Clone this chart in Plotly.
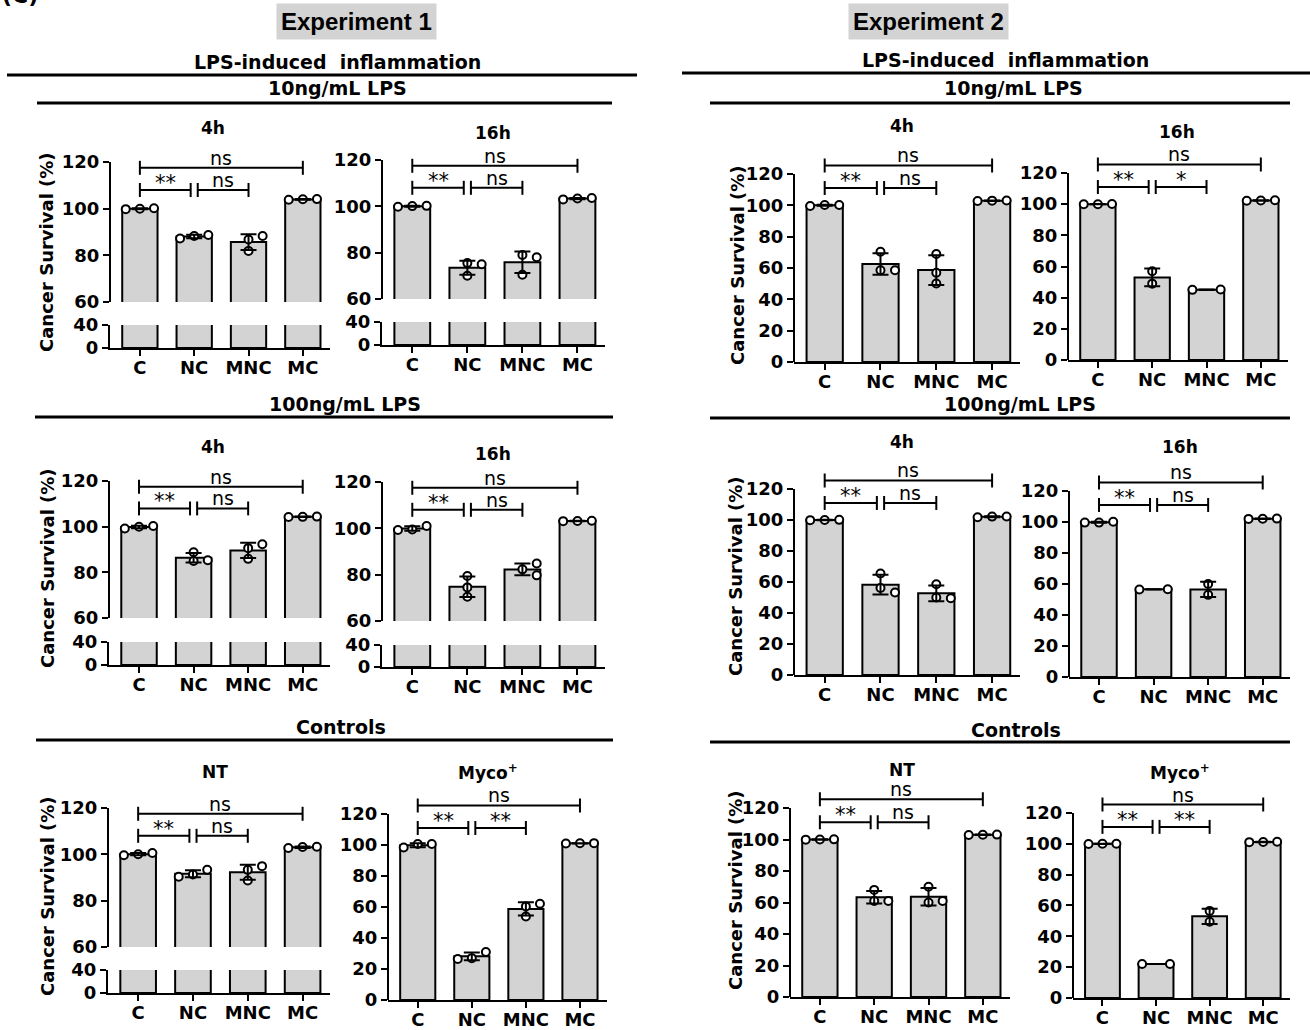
import numpy as np
import plotly.graph_objects as go

W, H = 1310, 1030
categories = ["C", "NC", "MNC", "MC"]

# Replicate measurements (% cancer survival), one list per group (C, NC, MNC, MC)
e1_lps10_4h = [[100.0, 100.2, 99.8], [88.7, 88.3, 87.2], [81.9, 86.8, 88.3], [104.0, 104.1, 103.8]]
e1_lps10_16h = [[100.1, 100.2, 99.8], [75.5, 70.0, 75.0], [79.0, 78.0, 70.5], [103.4, 103.6, 103.0]]
e1_lps100_4h = [[100.3, 100.0, 99.2], [88.8, 85.3, 85.0], [85.9, 90.6, 92.3], [104.3, 104.4, 104.2]]
e1_lps100_16h = [[101.0, 99.5, 99.3], [79.4, 74.5, 70.5], [82.3, 84.8, 79.7], [103.2, 103.3, 103.1]]
e1_nt = [[100.6, 100.0, 99.6], [93.3, 91.3, 90.3], [88.7, 93.3, 94.9], [103.3, 103.2, 102.7]]
e1_myco = [[100.6, 100.6, 98.4], [31.0, 27.0, 26.5], [53.9, 60.3, 62.1], [101.2, 101.1, 101.0]]

e2_lps10_4h = [[100.2, 100.2, 99.6], [70.4, 58.6, 58.6], [68.9, 57.0, 50.1], [103.1, 103.0, 102.8]]
e2_lps10_16h = [[100.0, 100.1, 99.9], [57.0, 49.0], [45.0, 45.2], [102.3, 102.5, 102.2]]
e2_lps100_4h = [[100.0, 100.1, 99.9], [65.5, 56.2, 53.2], [58.5, 50.0, 49.5], [102.2, 102.3, 101.8]]
e2_lps100_16h = [[100.2, 99.6, 99.6], [56.5, 56.6], [60.0, 53.0], [102.1, 102.2, 102.0]]
e2_nt = [[100.0, 100.1, 99.9], [68.0, 61.0, 61.0], [70.0, 60.0, 61.0], [103.0, 103.1, 102.9]]
e2_myco = [[100.0, 100.1, 99.9], [22.0, 22.1], [56.5, 49.5], [101.2, 101.3, 101.1]]

# Significance labels: C vs NC, NC vs MNC, C vs MC
sig_e1_lps10_4h = ["**", "ns", "ns"]
sig_e1_lps10_16h = ["**", "ns", "ns"]
sig_e1_lps100_4h = ["**", "ns", "ns"]
sig_e1_lps100_16h = ["**", "ns", "ns"]
sig_e1_nt = ["**", "ns", "ns"]
sig_e1_myco = ["**", "**", "ns"]
sig_e2_lps10_4h = ["**", "ns", "ns"]
sig_e2_lps10_16h = ["**", "*", "ns"]
sig_e2_lps100_4h = ["**", "ns", "ns"]
sig_e2_lps100_16h = ["**", "ns", "ns"]
sig_e2_nt = ["**", "ns", "ns"]
sig_e2_myco = ["**", "**", "ns"]

YLABEL = "Cancer Survival (%)"
FONT = "DejaVu Sans"
BAR_FILL = "#d3d3d3"

# Panel geometry (pixels): x = axis left/right; y = tick pixels
# broken: (y0, y40, y60, y120); full: (y0, y120)
panels = [
    dict(data=e1_lps10_4h, sig=sig_e1_lps10_4h, kind="broken", x=(110, 330), y=(348, 325, 302, 162),
         title=("4h", 213, 128), ylab=(47, 252)),
    dict(data=e1_lps10_16h, sig=sig_e1_lps10_16h, kind="broken", x=(382, 605), y=(345, 322, 299, 160),
         title=("16h", 493, 133), ylab=None),
    dict(data=e1_lps100_4h, sig=sig_e1_lps100_4h, kind="broken", x=(109, 330), y=(665, 642, 618, 481),
         title=("4h", 213, 447), ylab=(47, 568)),
    dict(data=e1_lps100_16h, sig=sig_e1_lps100_16h, kind="broken", x=(382, 605), y=(667, 645, 621, 482),
         title=("16h", 493, 454), ylab=None),
    dict(data=e1_nt, sig=sig_e1_nt, kind="broken", x=(108, 330), y=(993, 970, 947, 808),
         title=("NT", 215, 772), ylab=(47, 896)),
    dict(data=e1_myco, sig=sig_e1_myco, kind="full", x=(388, 607), y=(1000, 814),
         title=("Myco<sup>+</sup>", 488, 772), ylab=None),
    dict(data=e2_lps10_4h, sig=sig_e2_lps10_4h, kind="full", x=(794, 1020), y=(362, 174),
         title=("4h", 902, 126), ylab=(737, 265)),
    dict(data=e2_lps10_16h, sig=sig_e2_lps10_16h, kind="full", x=(1068, 1288), y=(360, 173),
         title=("16h", 1177, 132), ylab=None),
    dict(data=e2_lps100_4h, sig=sig_e2_lps100_4h, kind="full", x=(794, 1020), y=(675, 489),
         title=("4h", 902, 442), ylab=(735, 576)),
    dict(data=e2_lps100_16h, sig=sig_e2_lps100_16h, kind="full", x=(1069, 1290), y=(677, 491),
         title=("16h", 1180, 447), ylab=None),
    dict(data=e2_nt, sig=sig_e2_nt, kind="full", x=(790, 1010), y=(997, 808),
         title=("NT", 902, 770), ylab=(735, 890)),
    dict(data=e2_myco, sig=sig_e2_myco, kind="full", x=(1073, 1290), y=(998, 813),
         title=("Myco<sup>+</sup>", 1180, 772), ylab=None),
]

# Section headers (text, x px, y px) and rules (x0 px, x1 px, y px)
headers = [
    ("LPS-induced  inflammation", 338, 62), ("10ng/mL LPS", 338, 88),
    ("100ng/mL LPS", 345, 404), ("Controls", 341, 727),
    ("LPS-induced  inflammation", 1005, 60), ("10ng/mL LPS", 1013, 88),
    ("100ng/mL LPS", 1020, 404), ("Controls", 1016, 730),
]
rules = [
    (7, 637, 75), (37, 612, 103), (35, 613, 417), (36, 613, 740),
    (682, 1310, 73), (710, 1290, 103), (710, 1290, 418), (710, 1290, 742),
]


def px_x(px):
    return px / W


def px_y(py):
    return 1 - py / H


fig = go.Figure()
layout_axes = {}
shapes = []
annotations = []
counter = [0]

XR = [-0.55, 3.5]
X_CAT = [0, 1, 2, 3]


def new_axes(xdom, ydom, yrange, yticks, show_x, y_line):
    counter[0] += 1
    n = counter[0]
    s = "" if n == 1 else str(n)
    xid, yid = "x" + s, "y" + s
    tickfont = dict(family=FONT, size=18, color="black", weight="bold")
    layout_axes["xaxis" + s] = dict(
        domain=xdom, range=XR, anchor=yid, visible=show_x, showgrid=False, zeroline=False,
        showline=True, linecolor="black", linewidth=2, ticks="outside", ticklen=6, tickwidth=2,
        tickcolor="black", tickmode="array", tickvals=X_CAT, ticktext=categories,
        tickfont=tickfont, fixedrange=True, automargin=False, ticklabelstandoff=-4,
    )
    layout_axes["yaxis" + s] = dict(
        domain=ydom, range=yrange, anchor=xid, showgrid=False, zeroline=False,
        showline=y_line, linecolor="black", linewidth=2, ticks="outside", ticklen=6, tickwidth=2,
        tickcolor="black", tickmode="array", tickvals=yticks, ticktext=[str(t) for t in yticks],
        tickfont=tickfont, fixedrange=True, automargin=False,
    )
    return xid, yid


def swarm(values, ppu, step=0.26, min_px=8.5):
    ys = np.asarray(values, dtype=float)
    n = len(ys)
    if n > 1 and (ys.max() - ys.min()) * ppu < min_px:
        ranks = np.argsort(np.argsort(ys))
        sym = np.array([-1.0, 1.0]) if n == 2 else np.arange(n) - (n - 1) / 2
        return [sym[r] * step for r in ranks]
    placed, offs = [], []
    for v in ys:
        col = 0
        for c in [0, 1, -1, 2, -2]:
            if all(not (pc == c and abs(v - pv) * ppu < min_px) for pc, pv in placed):
                col = c
                break
        placed.append((col, v))
        offs.append(col * step)
    return offs


def add_bars(vals, xid, yid):
    means = [float(np.mean(v)) for v in vals]
    fig.add_trace(go.Bar(
        x=X_CAT, y=means, width=0.65, xaxis=xid, yaxis=yid, showlegend=False,
        marker=dict(color=BAR_FILL, line=dict(color="black", width=2)), hoverinfo="skip",
    ))


def add_points_and_errors(vals, xid, yid, ppu):
    means = [float(np.mean(v)) for v in vals]
    sds = [float(np.std(v, ddof=1)) for v in vals]
    px, py = [], []
    for i, v in enumerate(vals):
        for o, y in zip(swarm(v, ppu), v):
            px.append(i + o)
            py.append(y)
    fig.add_trace(go.Scatter(
        x=px, y=py, mode="markers", xaxis=xid, yaxis=yid, showlegend=False, cliponaxis=False,
        marker=dict(symbol="circle", size=8, color="white", line=dict(color="black", width=2)),
    ))
    fig.add_trace(go.Scatter(
        x=X_CAT, y=means, mode="markers", xaxis=xid, yaxis=yid, showlegend=False,
        marker=dict(size=1, color="rgba(0,0,0,0)"),
        error_y=dict(type="data", array=sds, visible=True, color="black", thickness=2, width=8),
    ))


def add_brackets(sig, xid, yid, low, high):
    g = 0.065
    spans = [(0, 1 - g, low), (1 + g, 2, low), (0, 3, high)]
    for (a, b, lvl), lab in zip(spans, sig):
        shapes.append(dict(type="line", xref=xid, yref=yid, x0=a, x1=b, y0=lvl, y1=lvl,
                           line=dict(color="black", width=2)))
        for xe in (a, b):
            shapes.append(dict(type="line", xref=xid, yref=yid, ysizemode="pixel", yanchor=lvl,
                               x0=xe, x1=xe, y0=-7, y1=7, line=dict(color="black", width=2)))
        star = "*" in lab
        annotations.append(dict(
            text=lab, x=(a + b) / 2, y=lvl, xref=xid, yref=yid, showarrow=False,
            yanchor="bottom", yshift=-7 if star else -3,
            font=dict(family=FONT, size=21 if star else 19, color="black"),
        ))


def y_line(xid, yid, lo, hi):
    shapes.append(dict(type="line", xref=xid + " domain", yref=yid, x0=0, x1=0, y0=lo, y1=hi,
                       line=dict(color="black", width=2)))


for p in panels:
    x0, x1 = p["x"]
    xdom = [px_x(x0), px_x(x1)]
    vals = p["data"]
    if p["kind"] == "full":
        y0, y120 = p["y"]
        ppu = (y0 - y120) / 120
        ytop = 133
        top_px = y0 - ppu * ytop
        xid, yid = new_axes(xdom, [px_y(y0), px_y(top_px)], [0, ytop],
                            [0, 20, 40, 60, 80, 100, 120], True, False)
        y_line(xid, yid, 0, 120)
        add_bars(vals, xid, yid)
        add_points_and_errors(vals, xid, yid, ppu)
        add_brackets(p["sig"], xid, yid, 111, 125.5)
    else:
        y0, y40, y60, y120 = p["y"]
        xb, yb = new_axes(xdom, [px_y(y0), px_y(y40)], [0, 40], [0, 40], True, True)
        add_bars(vals, xb, yb)
        ppu = (y60 - y120) / 60
        ytop = 126
        top_px = y60 - ppu * (ytop - 60)
        xt, yt = new_axes(xdom, [px_y(y60), px_y(top_px)], [60, ytop],
                          [60, 80, 100, 120], False, False)
        y_line(xt, yt, 60, 120)
        add_bars(vals, xt, yt)
        add_points_and_errors(vals, xt, yt, ppu)
        add_brackets(p["sig"], xt, yt, 108, 117.5)

    t, tx, ty = p["title"]
    annotations.append(dict(text=t, x=px_x(tx), y=px_y(ty), xref="paper", yref="paper",
                            showarrow=False, xanchor="center", yanchor="middle",
                            font=dict(family=FONT, size=17, color="black", weight="bold")))
    if p["ylab"]:
        lx, ly = p["ylab"]
        annotations.append(dict(text=YLABEL, x=px_x(lx), y=px_y(ly), xref="paper", yref="paper",
                                showarrow=False, textangle=-90, xanchor="center", yanchor="middle",
                                font=dict(family=FONT, size=18, color="black", weight="bold")))

for text, hx, hy in headers:
    annotations.append(dict(text=text, x=px_x(hx), y=px_y(hy), xref="paper", yref="paper",
                            showarrow=False, xanchor="center", yanchor="middle",
                            font=dict(family=FONT, size=19, color="black", weight="bold")))
for rx0, rx1, ry in rules:
    shapes.append(dict(type="line", xref="paper", yref="paper", x0=px_x(rx0), x1=px_x(rx1),
                       y0=px_y(ry), y1=px_y(ry), line=dict(color="black", width=3)))

for text, cx in [("Experiment 1", 356), ("Experiment 2", 928)]:
    annotations.append(dict(text=text, x=px_x(cx), y=px_y(22), xref="paper", yref="paper",
                            showarrow=False, xanchor="center", yanchor="middle",
                            bgcolor="#d3d3d3", borderpad=4,
                            font=dict(family="Liberation Sans, Arial", size=24, color="black",
                                      weight="bold")))

annotations.append(dict(text="(C)", x=0.0, y=px_y(10), xref="paper", yref="paper",
                        showarrow=False, xanchor="left", yanchor="bottom",
                        font=dict(family=FONT, size=22, color="black", weight="bold")))

fig.update_layout(
    width=W, height=H, margin=dict(l=0, r=0, t=0, b=0, autoexpand=False),
    paper_bgcolor="white", plot_bgcolor="white", showlegend=False,
    barmode="overlay", shapes=shapes, annotations=annotations, **layout_axes,
)

fig.write_html("out.html")
